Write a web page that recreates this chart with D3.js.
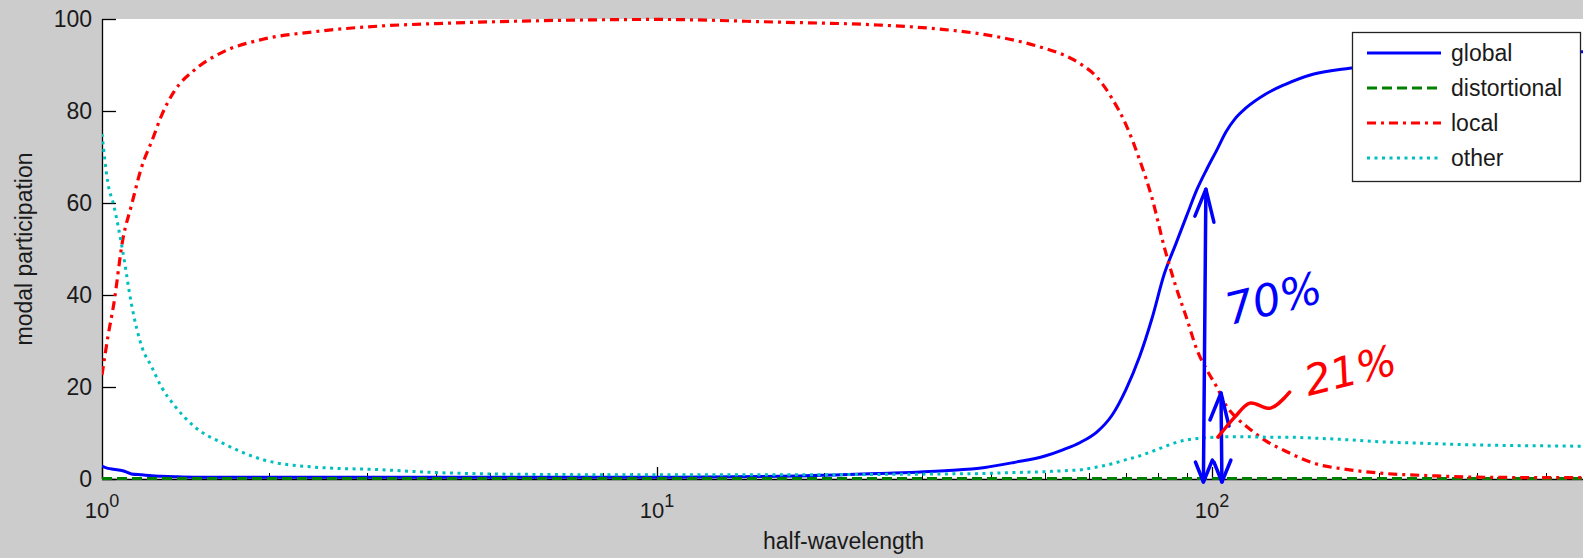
<!DOCTYPE html>
<html>
<head>
<meta charset="utf-8">
<script src="https://cdn.jsdelivr.net/npm/d3@7"></script>
<style>
  html, body { margin: 0; padding: 0; background: #cccccc; overflow: hidden; }
  svg { display: block; }
  text { font-family: "Liberation Sans", Arial, sans-serif; fill: #1a1a1a; }
</style>
</head>
<body>
<svg id="chart" width="1583" height="558"></svg>
<script>
// ---------------- data ----------------
const halfWavelength = [1, 1.025, 1.05, 1.09, 1.13, 1.18, 1.23, 1.28, 1.35, 1.47, 1.65, 1.95, 2.4, 3.2, 4, 6, 10,
  16.7, 25, 33, 39, 44, 50, 54, 58, 62, 66, 70, 74, 78, 82, 86, 90, 94, 98, 102, 106, 110, 115, 125, 135, 152, 177,
  200, 250, 300, 400, 500];

const globalPart = [2.8, 2.3, 2.1, 1.8, 1.1, 0.9, 0.7, 0.6, 0.5, 0.4, 0.4, 0.4, 0.4, 0.4, 0.4, 0.4, 0.4,
  0.6, 1.2, 1.8, 2.5, 3.6, 5.0, 6.4, 8.0, 10.2, 13.8, 19.5, 26.5, 35, 44.5, 51, 57.2, 63, 67.5, 71.5, 75.5, 78.3, 80.6, 83.7, 85.7, 88, 89.3,
  90.0, 91.2, 92.0, 92.6, 93];

const distortional = [0.1, 0.1, 0.1, 0.1, 0.1, 0.1, 0.1, 0.1, 0.1, 0.1, 0.1, 0.1, 0.1, 0.1, 0.1, 0.1, 0.1,
  0.1, 0.1, 0.1, 0.1, 0.1, 0.1, 0.1, 0.1, 0.1, 0.1, 0.1, 0.1, 0.1, 0.1, 0.1, 0.1, 0.1, 0.1, 0.1, 0.1, 0.1, 0.1, 0.1, 0.1, 0.1, 0.1,
  0.1, 0.1, 0.1, 0.1, 0.1];

const localPart = [22.6, 31, 38, 52, 59.5, 68, 73.5, 79, 84.3, 89, 92.8, 95.6, 97.2, 98.5, 99, 99.6, 99.9,
  99.3, 98.7, 97.7, 96.6, 95.4, 93.6, 92.2, 90.2, 87.4, 82.8, 77, 69.5, 61, 50.5, 42, 35, 28, 23.6, 20, 16, 13.6, 11.6, 8.3, 6.2, 3.5, 2,
  1.3, 0.7, 0.4, 0.3, 0.3];

const otherPart = [75, 64.3, 59.5, 49.5, 38, 28.7, 24.3, 20, 16, 11.3, 7.8, 4.2, 2.6, 2, 1.4, 1.0, 0.9,
  0.9, 1.0, 1.1, 1.2, 1.4, 1.6, 1.8, 2.0, 2.6, 3.3, 4.2, 5, 6, 7, 7.9, 8.5, 8.8, 9.0, 9.1, 9.2, 9.2, 9.2, 9.1, 9.1, 8.9, 8.5,
  8.1, 7.7, 7.4, 7.2, 7.1];

const seriesNames = ["global", "distortional", "local", "other"];
const yTickValues = [0, 20, 40, 60, 80, 100];
const xMajorTicks = [1, 10, 100];
const xMajorExponents = ["0", "1", "2"];
const xDomain = [1, 470];
const yDomain = [0, 100];

// hand-drawn annotations (data coordinates)
const bigArrow = [[96.5, 0], [97.5, 63]];
const smallArrow = [[104.2, 0], [103.8, 18.7]];
const blueNote = { text: "70%", x: 131, y: 36 };
const redNote = { text: "21%", x: 180, y: 20.5 };
const tildeX = [102.5, 110, 117, 127.5, 138];
const tildeY = [9.1, 13.5, 16.5, 15.4, 18.9];

// ---------------- drawing ----------------
const svg = d3.select("#chart");
const plotLeft = 102, plotTop = 19, plotBottom = 479;
const decade = 555;

const x = d3.scaleLog().domain(xDomain).range([plotLeft, plotLeft + decade * Math.log10(xDomain[1])]);
const y = d3.scaleLinear().domain(yDomain).range([plotBottom, plotTop]);
const plotRight = x.range()[1];

svg.append("rect").attr("width", 1583).attr("height", 558).attr("fill", "#cccccc");
svg.append("rect").attr("x", plotLeft).attr("y", plotTop).attr("width", plotRight - plotLeft).attr("height", plotBottom - plotTop).attr("fill", "#ffffff");

svg.append("clipPath").attr("id", "plotclip").append("rect")
  .attr("x", plotLeft).attr("y", plotTop - 3).attr("width", plotRight - plotLeft).attr("height", plotBottom - plotTop + 6);

// axes
const axisG = svg.append("g");
axisG.append("line").attr("x1", plotLeft + 0.5).attr("x2", plotLeft + 0.5).attr("y1", plotTop).attr("y2", plotBottom)
  .attr("stroke", "#000").attr("stroke-width", 1.3);
axisG.append("line").attr("x1", plotLeft).attr("x2", plotRight).attr("y1", plotBottom + 0.5).attr("y2", plotBottom + 0.5)
  .attr("stroke", "#000").attr("stroke-width", 1.3);

// y ticks (inward) + labels
yTickValues.forEach(v => {
  axisG.append("line").attr("x1", plotLeft).attr("x2", plotLeft + 14).attr("y1", y(v) + 0.5).attr("y2", y(v) + 0.5)
    .attr("stroke", "#000").attr("stroke-width", 1.3);
  axisG.append("text").attr("x", 92).attr("y", y(v)).attr("dy", "0.36em").attr("text-anchor", "end")
    .style("font-size", "23px").text(v);
});

// x minor + major ticks (upward)
const minorTicks = [];
for (let d = 1; d <= 100; d *= 10) for (let m = 2; m <= 9; m++) if (d * m <= xDomain[1]) minorTicks.push(d * m);
minorTicks.forEach(t => {
  axisG.append("line").attr("x1", Math.round(x(t)) + 0.5).attr("x2", Math.round(x(t)) + 0.5)
    .attr("y1", plotBottom).attr("y2", plotBottom - 6).attr("stroke", "#000").attr("stroke-width", 1);
});
xMajorTicks.forEach((t, i) => {
  axisG.append("line").attr("x1", Math.round(x(t)) + 0.5).attr("x2", Math.round(x(t)) + 0.5)
    .attr("y1", plotBottom).attr("y2", plotBottom - 12).attr("stroke", "#000").attr("stroke-width", 1.3);
  const tx = axisG.append("text").attr("x", x(t)).attr("y", 518).attr("text-anchor", "middle")
    .style("font-size", "22px");
  tx.append("tspan").text("10");
  tx.append("tspan").attr("dy", -11).style("font-size", "18px").text(xMajorExponents[i]);
});

// axis labels
svg.append("text").attr("x", (plotLeft + plotRight) / 2).attr("y", 549).attr("text-anchor", "middle")
  .style("font-size", "23px").text("half-wavelength");
svg.append("text").attr("transform", `translate(32,${(plotTop + plotBottom) / 2}) rotate(-90)`).attr("text-anchor", "middle")
  .style("font-size", "23px").text("modal participation");

// series
const styles = [
  { values: globalPart, color: "#0000ff", dash: null, width: 3 },
  { values: distortional, color: "#008000", dash: "10,5", width: 3 },
  { values: localPart, color: "#ff0000", dash: "9,5,3,5", width: 3.2 },
  { values: otherPart, color: "#00bfbf", dash: "3,4.5", width: 3 }
];
const line = d3.line().x(d => x(d[0])).y(d => y(d[1])).curve(d3.curveMonotoneX);
const plotG = svg.append("g").attr("clip-path", "url(#plotclip)");
styles.forEach(s => {
  plotG.append("path")
    .attr("d", line(halfWavelength.map((w, i) => [w, s.values[i]])))
    .attr("fill", "none").attr("stroke", s.color).attr("stroke-width", s.width)
    .attr("stroke-dasharray", s.dash).attr("stroke-linejoin", "round");
});

// legend
const lg = svg.append("g");
lg.append("rect").attr("x", 1352.5).attr("y", 32.5).attr("width", 228).attr("height", 149)
  .attr("fill", "#ffffff").attr("stroke", "#222").attr("stroke-width", 1.3);
seriesNames.forEach((name, i) => {
  const cy = 53 + i * 35;
  lg.append("line").attr("x1", 1367).attr("x2", 1441).attr("y1", cy).attr("y2", cy)
    .attr("stroke", styles[i].color).attr("stroke-width", styles[i].width).attr("stroke-dasharray", styles[i].dash);
  lg.append("text").attr("x", 1451).attr("y", cy).attr("dy", "0.36em").style("font-size", "23px").text(name);
});

// hand-drawn annotations
const ann = svg.append("g").attr("fill", "none").attr("stroke-linecap", "round").attr("stroke-linejoin", "round");
function arrow(pts, color) {
  const p0 = [x(pts[0][0]), y(pts[0][1]) + 3], p1 = [x(pts[1][0]), y(pts[1][1])];
  ann.append("path").attr("d", `M${p0[0]},${p0[1]} L${p1[0]},${p1[1]}`).attr("stroke", color).attr("stroke-width", 3.5);
  const h = 30;
  ann.append("path").attr("d", `M${p1[0] - 11},${p1[1] + h * 0.9} L${p1[0]},${p1[1]} L${p1[0] + 8},${p1[1] + h * 1.1}`)
    .attr("stroke", color).attr("stroke-width", 3.5);
  ann.append("path").attr("d", `M${p0[0] - 8},${p0[1] - 20} L${p0[0]},${p0[1]} L${p0[0] + 9},${p0[1] - 22}`)
    .attr("stroke", color).attr("stroke-width", 3.5);
}
arrow(bigArrow, "#0000ff");
arrow(smallArrow, "#0000ff");

const tilde = d3.line().x(d => x(d[0])).y(d => y(d[1])).curve(d3.curveCatmullRom);
ann.append("path").attr("d", tilde(tildeX.map((v, i) => [v, tildeY[i]])))
  .attr("stroke", "#ff0000").attr("stroke-width", 3.5);

svg.append("text").attr("transform", `translate(${x(blueNote.x)},${y(blueNote.y)}) rotate(-14)`)
  .attr("text-anchor", "middle").style("font-family", "DejaVu Sans, sans-serif").style("font-size", "44px")
  .style("font-style", "italic").style("fill", "#0000ff").text(blueNote.text);
svg.append("text").attr("transform", `translate(${x(redNote.x)},${y(redNote.y)}) rotate(-14)`)
  .attr("text-anchor", "middle").style("font-family", "DejaVu Sans, sans-serif").style("font-size", "42px")
  .style("font-style", "italic").style("fill", "#ff0000").text(redNote.text);
</script>
</body>
</html>
